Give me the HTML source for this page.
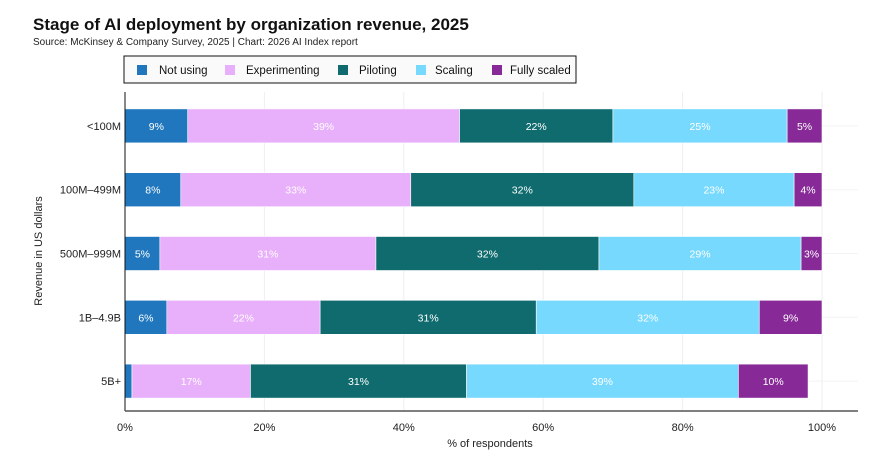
<!DOCTYPE html>
<html><head><meta charset="utf-8"><style>
body{margin:0;background:#fff;font-family:"Liberation Sans",sans-serif;}
svg text{font-family:"Liberation Sans",sans-serif;}
</style></head><body>
<svg id="chart" width="885" height="464">
<text x="33" y="30" font-size="17" font-weight="bold" fill="#111">Stage of AI deployment by organization revenue, 2025</text>
<text x="33" y="45" font-size="10" fill="#222">Source: McKinsey &amp; Company Survey, 2025 | Chart: 2026 AI Index report</text>
<g id="grid"></g>
<g id="bars"></g>
<g id="axes"></g>
<g id="legend"></g>
<text x="490" y="447" font-size="11" text-anchor="middle" fill="#222">% of respondents</text>
<text transform="translate(42,251) rotate(-90)" font-size="11" text-anchor="middle" fill="#222">Revenue in US dollars</text>
</svg>
<script>
const categories = ["<100M","100M–499M","500M–999M","1B–4.9B","5B+"];
const seriesNames = ["Not using","Experimenting","Piloting","Scaling","Fully scaled"];
const notUsing = [9,8,5,6,1];
const experimenting = [39,33,31,22,17];
const piloting = [22,32,32,31,31];
const scaling = [25,23,29,32,39];
const fullyScaled = [5,4,3,9,10];
const xTicks = [0,20,40,60,80,100];
const series=[notUsing,experimenting,piloting,scaling,fullyScaled];
const colors=["#2077bd","#e8affa","#0f6b6e","#76d9fd","#872a97"];
const NS="http://www.w3.org/2000/svg";
const x0=125,x1=822,yTop=92,yBot=411;
const xs=v=>x0+(x1-x0)*v/100;
const band=(yBot-yTop)/categories.length;
const yc=i=>yTop+band*(i+0.5)+2;
const bh=34;
function mk(t,a,p){const e=document.createElementNS(NS,t);for(const k in a)e.setAttribute(k,a[k]);p.appendChild(e);return e;}
const grid=document.getElementById('grid'),bars=document.getElementById('bars'),axes=document.getElementById('axes'),leg=document.getElementById('legend');
xTicks.forEach(t=>{
 const l=mk('line',{x1:xs(t),x2:xs(t),y1:yTop,y2:yBot,stroke:"#eee"},grid);
 
 
 const tx=mk('text',{x:xs(t),y:yBot+20,'font-size':11,'text-anchor':'middle',fill:'#222'},axes);
 tx.textContent=t+"%";
 
 
});
categories.forEach((c,i)=>{
 const gl=mk('line',{x1:x0,x2:858,y1:yc(i),y2:yc(i),stroke:"#f3f3f3"},grid);
 
 
 let acc=0;
 series.forEach((s,j)=>{
  const v=s[i];
  const r=mk('rect',{x:xs(acc),y:yc(i)-bh/2,width:xs(acc+v)-xs(acc),height:bh,fill:colors[j],stroke:"#fff","stroke-width":0.6},bars);
  
  
  if(v>=3){
   const t=mk('text',{x:(xs(acc)+xs(acc+v))/2,y:yc(i)+4,'font-size':10.5,'text-anchor':'middle',fill:'#fff'},bars);
   t.textContent=v+"%";
   
   
  }
  acc+=v;
 });
 const lt=mk('text',{x:x0-4,y:yc(i)+4,'font-size':11,'text-anchor':'end',fill:'#222'},axes);
 lt.textContent=c;
 
 
});
const ya=mk('line',{x1:x0,x2:x0,y1:yTop,y2:yBot,stroke:"#111","stroke-width":1},axes);


const xa=mk('line',{x1:x0,x2:858,y1:yBot,y2:yBot,stroke:"#555","stroke-width":1.5},axes);


const lb=mk('rect',{x:124,y:56,width:452,height:27,fill:"#fafafa",stroke:"#111","stroke-width":1},leg);


const swX=[137,225,338,416,492];
const txX=[159,246,359,435,510];
seriesNames.forEach((n,j)=>{
 const sw=mk('rect',{x:swX[j],y:65,width:10,height:10,fill:colors[j]},leg);
 
 
 const t=mk('text',{x:txX[j],y:74,'font-size':11.5,fill:'#111'},leg);
 t.textContent=n;
 
 
});
</script>
</body></html>
